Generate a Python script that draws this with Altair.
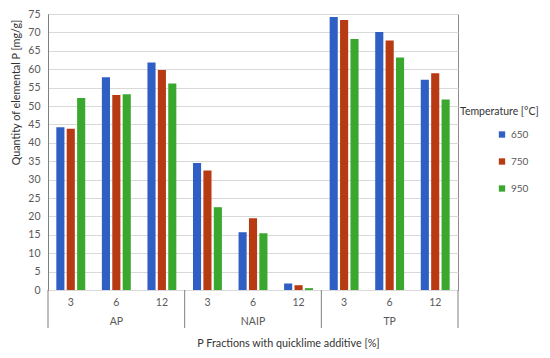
import altair as alt
import pandas as pd

groups = ["AP", "NAIP", "TP"]
additives = ["3", "6", "12"]
temps = ["650", "750", "950"]
v650 = [44.2, 57.8, 61.8, 34.5, 15.7, 1.8, 74.2, 70.1, 57.1]
v750 = [43.8, 53.0, 59.8, 32.5, 19.5, 1.3, 73.4, 67.8, 58.9]
v950 = [52.2, 53.2, 56.1, 22.5, 15.4, 0.5, 68.2, 63.2, 51.8]
colors = ["#2f5fc4", "#b83a12", "#3aa82e"]

rows = []
keys = []
for gi, g in enumerate(groups):
    for ai, a in enumerate(additives):
        k = f"{g}|{a}"
        keys.append(k)
        for t, vals in zip(temps, [v650, v750, v950]):
            rows.append({"key": k, "group": g, "additive": a, "temp": t,
                         "value": vals[gi * 3 + ai]})
df = pd.DataFrame(rows)

W, H = 410, 276
FONT = "Lato"
xscale = alt.Scale(domain=keys, paddingInner=0, paddingOuter=0)
xaxis = alt.Axis(labelExpr="split(datum.label,'|')[1]", labelAngle=0,
                 ticks=False, domain=False, labelPadding=7, grid=False,
                 labelColor="#595959", labelFontSize=10.5,
                 title="P Fractions with quicklime additive [%]",
                 titlePadding=30, titleX=240, titleFontSize=10.8,
                 titleFontWeight="normal", titleColor="#333333")

bars = alt.Chart(df).mark_bar().encode(
    x=alt.X("key:N", scale=xscale, sort=keys, axis=xaxis),
    xOffset=alt.XOffset("temp:N", sort=temps,
                        scale=alt.Scale(paddingInner=0.22, paddingOuter=0.8)),
    y=alt.Y("value:Q", scale=alt.Scale(domain=[0, 75], nice=False),
            axis=alt.Axis(values=list(range(0, 80, 5)), ticks=False, labelPadding=8,
                          gridColor="#d9d9d9", domainColor="#7f7f7f",
                          labelColor="#595959", labelFontSize=10.5,
                          title="Quantity of elemental P [mg/g]",
                          titleY=78, titleAlign="center", titleFontSize=10.8,
                          titleFontWeight="normal", titleColor="#333333",
                          titlePadding=6)),
    color=alt.Color("temp:N", sort=temps,
                    scale=alt.Scale(domain=temps, range=colors),
                    legend=alt.Legend(title="Temperature [°C]", orient="none",
                                      legendX=412, legendY=93,
                                      symbolType="square", symbolSize=40,
                                      symbolOffset=37, rowPadding=17,
                                      titlePadding=12, labelFontSize=10,
                                      labelColor="#595959",
                                      titleFontSize=10.5, titleFontWeight="normal",
                                      titleColor="#333333")),
)

bnd_left = pd.DataFrame({"key": ["AP|3", "NAIP|3", "TP|3"]})
bnd_right = pd.DataFrame({"key": ["TP|12"]})
rule_l = alt.Chart(bnd_left).mark_rule(color="#7f7f7f").encode(
    x=alt.X("key:N", scale=xscale, sort=keys, bandPosition=0, axis=xaxis),
    y=alt.value(H), y2=alt.value(H + 38))
rule_r = alt.Chart(bnd_right).mark_rule(color="#7f7f7f").encode(
    x=alt.X("key:N", scale=xscale, sort=keys, bandPosition=1, axis=xaxis),
    y=alt.value(H), y2=alt.value(H + 38))

glab = pd.DataFrame({"key": ["AP|6", "NAIP|6", "TP|6"], "label": groups})
gtext = alt.Chart(glab).mark_text(fontSize=10.5, color="#595959", font=FONT).encode(
    x=alt.X("key:N", scale=xscale, sort=keys, axis=xaxis),
    y=alt.value(H + 32),
    text="label:N")

chart = alt.layer(bars, rule_l, rule_r, gtext).properties(
    width=W, height=H,
    autosize=alt.AutoSizeParams(type="none"),
    padding={"left": 40, "top": 6, "right": 84, "bottom": 60},
).configure(font=FONT).configure_view(stroke="#8c8c8c")

chart.save("out.html", embed_options={"renderer": "svg", "actions": False})
